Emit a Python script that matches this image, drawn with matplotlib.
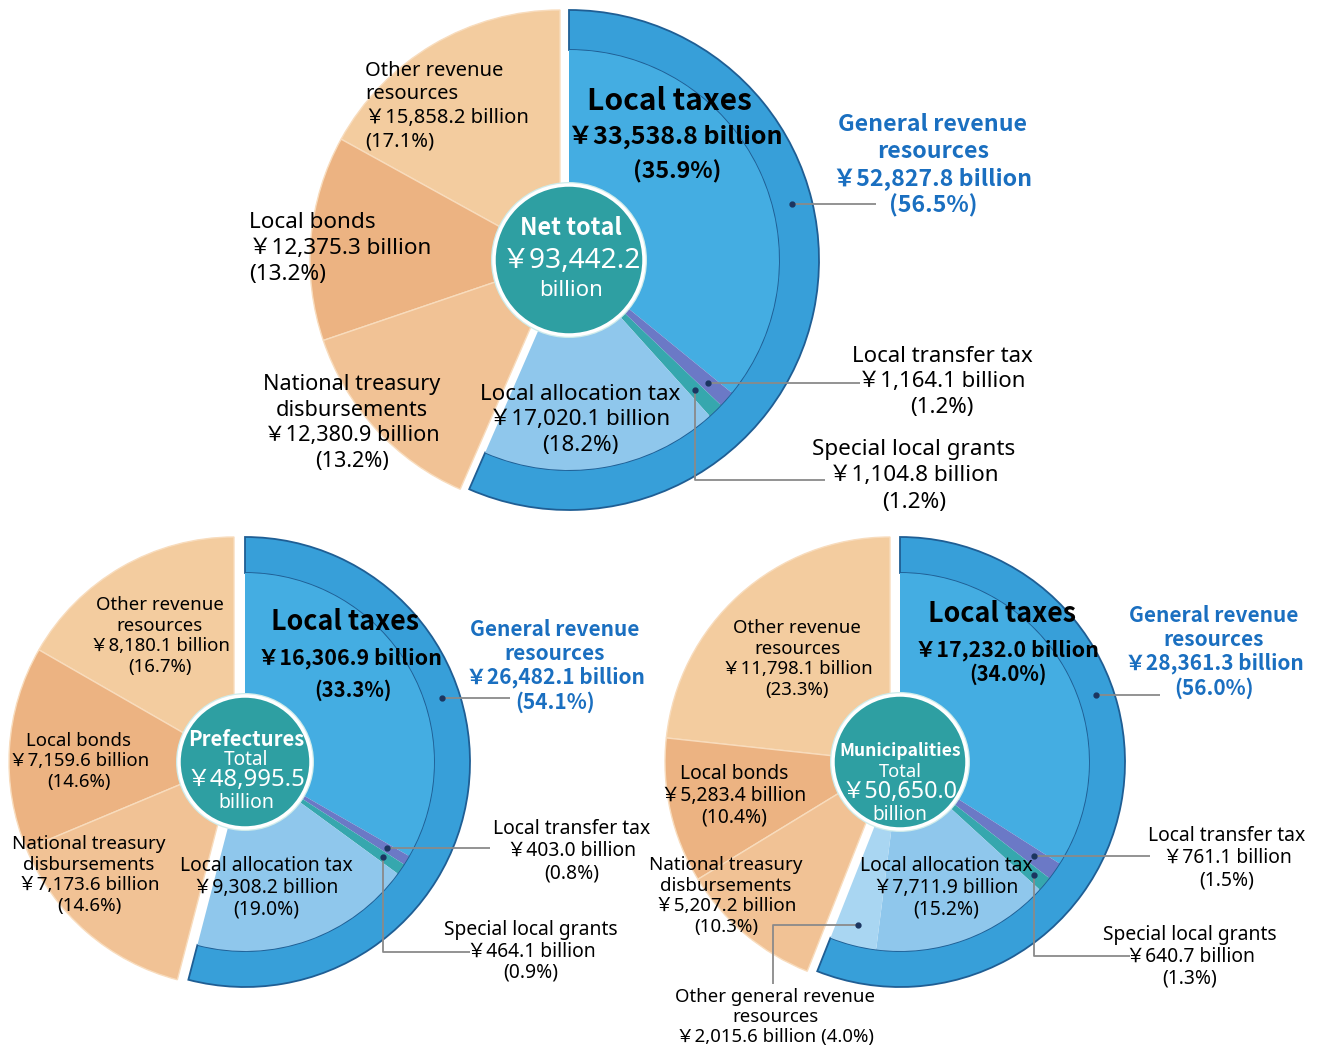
import matplotlib
matplotlib.use("Agg")
import matplotlib.pyplot as plt
from matplotlib.patches import Circle
import numpy as np

W, H = 1319, 1049
FONT = ["Noto Sans", "Noto Sans CJK JP", "DejaVu Sans"]
BFONT = ["Noto Sans CJK JP", "DejaVu Sans"]

# ---------------- data ----------------
beige_names = ["Other revenue\nresources", "Local bonds", "National treasury\ndisbursements"]
general_names = ["Local taxes", "Local transfer tax", "Special local grants",
                 "Local allocation tax", "Other general revenue\nresources"]

net_beige = [15858.2, 12375.3, 12380.9]
net_beige_pct = [17.1, 13.2, 13.2]
net_parts = [33538.8, 1164.1, 1104.8, 17020.1]
net_parts_pct = [35.9, 1.2, 1.2, 18.2]
net_general = 52827.8
net_general_pct = 56.5
net_total = 93442.2

pref_beige = [8180.1, 7159.6, 7173.6]
pref_beige_pct = [16.7, 14.6, 14.6]
pref_parts = [16306.9, 403.0, 464.1, 9308.2]
pref_parts_pct = [33.3, 0.8, 0.9, 19.0]
pref_general = 26482.1
pref_general_pct = 54.1
pref_total = 48995.5

muni_beige = [11798.1, 5283.4, 5207.2]
muni_beige_pct = [23.3, 10.4, 10.3]
muni_parts = [17232.0, 761.1, 640.7, 7711.9, 2015.6]
muni_parts_pct = [34.0, 1.5, 1.3, 15.2, 4.0]
muni_general = 28361.3
muni_general_pct = 56.0
muni_total = 50650.0

# ---------------- styles ----------------
BEIGE = ["#f3cc9f", "#ecb382", "#f1c295"]
PARTS = ["#44ade2", "#6b79c6", "#36a7ae", "#8fc7ec", "#a9d6f2"]
RING = "#379fd9"
RING_EDGE = "#1f5e94"
HUB = "#2e9fa2"
GEN_BLUE = "#1a6fc0"
LINE = "#8a8a8a"
DOT = "#1b3560"


def yen(v):
    return f"\uffe5{v:,.1f} billion"


def pct(p):
    return f"({p:.1f}%)"


fig = plt.figure(figsize=(W / 100, H / 100), dpi=100)
ax = fig.add_axes([0, 0, 1, 1])


def Y(y):
    return H - y


def polar(cx, cy, ang, r):
    a = np.radians(ang)
    return cx + r * np.cos(a), cy - r * np.sin(a)


def mid_angle(values, idx, total):
    cum = sum(values[:idx]) + values[idx] / 2
    return 90 - 360 * cum / total


def draw_pie(cx, cy, R, ring_w, hub_r, gap, beige, parts, general):
    tb, tg = sum(beige), sum(parts)
    wb, _ = ax.pie(beige + [tg], startangle=90, counterclock=True,
                   center=(cx - gap, Y(cy)), radius=R,
                   colors=BEIGE + ["none"], frame=True,
                   wedgeprops=dict(edgecolor="#f8dcbd", linewidth=1.0))
    wb[-1].set_visible(False)
    wr, _ = ax.pie([tg, tb], startangle=90, counterclock=False,
                   center=(cx, Y(cy)), radius=R, colors=[RING, "none"], frame=True,
                   wedgeprops=dict(width=ring_w, edgecolor=RING_EDGE, linewidth=1.3))
    wr[-1].set_visible(False)
    wi, _ = ax.pie(parts + [tb], startangle=90, counterclock=False,
                   center=(cx, Y(cy)), radius=R - ring_w,
                   colors=PARTS[:len(parts)] + ["none"], frame=True,
                   wedgeprops=dict(edgecolor="none", linewidth=0))
    wi[-1].set_visible(False)
    ax.add_patch(Circle((cx, Y(cy)), hub_r + 3, fc="#cfeceb", ec="none", zorder=5))
    ax.add_patch(Circle((cx, Y(cy)), hub_r, fc=HUB, ec="white", lw=2.5, zorder=6))


def txt(x, y, s, size, weight="normal", color="black", ha="center", ls=1.2, z=10):
    fam = BFONT if weight == "bold" else FONT
    ax.text(x, Y(y), s, fontsize=size, fontweight=weight, color=color, ha=ha,
            va="center", family=fam, linespacing=ls, zorder=z, multialignment=ha)


def leader(points, dot=True):
    xs = [p[0] for p in points]
    ys = [Y(p[1]) for p in points]
    ax.plot(xs, ys, color=LINE, lw=1.3, zorder=8, solid_capstyle="butt")
    if dot:
        ax.plot(xs[0], ys[0], "o", ms=3.5, color=DOT, zorder=9)


# ================= Net total (top) =================
cx, cy, R = 569, 260, 250
draw_pie(cx, cy, R, 40, 75, 9, net_beige, net_parts, net_general)
tot = sum(net_beige) + sum(net_parts)
txt(365, 106, f"{beige_names[0]}\n{yen(net_beige[0])}\n{pct(net_beige_pct[0])}", 14.5, ha="left", ls=1.24)
txt(249, 248.5, f"{beige_names[1]}\n{yen(net_beige[1])}\n{pct(net_beige_pct[1])}", 16.2, ha="left", ls=1.29)
txt(352, 423, f"{beige_names[2]}\n{yen(net_beige[2])}\n{pct(net_beige_pct[2])}", 15.6, ls=1.31)
txt(669, 101, general_names[0], 21.5, "bold")
txt(675, 137, yen(net_parts[0]), 18, "bold")
txt(677, 172, pct(net_parts_pct[0]), 16.7, "bold")
txt(571, 228, "Net total", 16.8, "bold", "white")
txt(571, 261, f"\uffe5{net_total:,.1f}", 20.2, "normal", "white")
txt(571, 290, "billion", 16, "normal", "white")
txt(933, 165, f"General revenue\nresources\n{yen(net_general)}\n{pct(net_general_pct)}", 16.7, "bold", GEN_BLUE, ls=1.22)
txt(580, 420, f"{general_names[3]}\n{yen(net_parts[3])}\n{pct(net_parts_pct[3])}", 16.1, ls=1.31)
txt(942, 382, f"{general_names[1]}\n{yen(net_parts[1])}\n{pct(net_parts_pct[1])}", 16.0, ls=1.29)
txt(914, 476, f"{general_names[2]}\n{yen(net_parts[2])}\n{pct(net_parts_pct[2])}", 16.2, ls=1.33)
p = polar(cx, cy, 14, 230)
leader([p, (876, p[1])])
p = polar(cx, cy, mid_angle(net_parts, 1, tot), 186)
leader([p, (860, p[1])])
p = polar(cx, cy, mid_angle(net_parts, 2, tot), 181)
leader([p, (p[0], 480), (825, 480)])

# ================= Prefectures (bottom left) =================
cx, cy, R = 245, 762, 225
draw_pie(cx, cy, R, 36, 66, 11, pref_beige, pref_parts, pref_general)
tot = sum(pref_beige) + sum(pref_parts)
txt(160, 636, f"{beige_names[0]}\n{yen(pref_beige[0])}\n{pct(pref_beige_pct[0])}", 13.4, ls=1.21)
txt(79, 761.5, f"{beige_names[1]}\n{yen(pref_beige[1])}\n{pct(pref_beige_pct[1])}", 13.4, ls=1.18)
txt(89, 875, f"{beige_names[2]}\n{yen(pref_beige[2])}\n{pct(pref_beige_pct[2])}", 13.5, ls=1.21)
txt(345, 622, general_names[0], 19.3, "bold")
txt(350, 658, yen(pref_parts[0]), 15.4, "bold")
txt(353, 690, pct(pref_parts_pct[0]), 14.6, "bold")
txt(246, 739, "Prefectures", 14.6, "bold", "white")
txt(246, 760, "Total", 13.7, "normal", "white")
txt(246, 780, f"\uffe5{pref_total:,.1f}", 17.2, "normal", "white")
txt(246, 803, "billion", 14, "normal", "white")
txt(555, 666, f"General revenue\nresources\n{yen(pref_general)}\n{pct(pref_general_pct)}", 15, "bold", GEN_BLUE, ls=1.16)
txt(266, 888, f"{general_names[3]}\n{yen(pref_parts[3])}\n{pct(pref_parts_pct[3])}", 13.9, ls=1.12)
txt(572, 851, f"{general_names[1]}\n{yen(pref_parts[1])}\n{pct(pref_parts_pct[1])}", 13.9, ls=1.14)
txt(531, 951.5, f"{general_names[2]}\n{yen(pref_parts[2])}\n{pct(pref_parts_pct[2])}", 13.9, ls=1.07)
p = polar(cx, cy, 18, 207)
leader([p, (510, p[1])])
p = polar(cx, cy, mid_angle(pref_parts, 1, tot), 166)
leader([p, (490, p[1])])
p = polar(cx, cy, mid_angle(pref_parts, 2, tot), 168)
leader([p, (p[0], 952), (470, 952)])

# ================= Municipalities (bottom right) =================
cx, cy, R = 900, 762, 225
draw_pie(cx, cy, R, 36, 67, 10, muni_beige, muni_parts, muni_general)
tot = sum(muni_beige) + sum(muni_parts)
txt(797, 659, f"{beige_names[0]}\n{yen(muni_beige[0])}\n{pct(muni_beige_pct[0])}", 13.4, ls=1.2)
txt(734, 796, f"{beige_names[1]}\n{yen(muni_beige[1])}\n{pct(muni_beige_pct[1])}", 13.9, ls=1.12)
txt(726, 896, f"{beige_names[2]}\n{yen(muni_beige[2])}\n{pct(muni_beige_pct[2])}", 13.5, ls=1.21)
txt(1002, 614, general_names[0], 19.3, "bold")
txt(1007, 650, yen(muni_parts[0]), 15.4, "bold")
txt(1008, 674, pct(muni_parts_pct[0]), 14.6, "bold")
txt(900, 751, "Municipalities", 12.6, "bold", "white")
txt(900, 772, "Total", 13.2, "normal", "white")
txt(900, 792, f"\uffe5{muni_total:,.1f}", 16.8, "normal", "white")
txt(900, 815, "billion", 13.7, "normal", "white")
txt(1214, 652, f"General revenue\nresources\n{yen(muni_general)}\n{pct(muni_general_pct)}", 15, "bold", GEN_BLUE, ls=1.16)
txt(946, 888, f"{general_names[3]}\n{yen(muni_parts[3])}\n{pct(muni_parts_pct[3])}", 13.9, ls=1.12)
txt(1227, 858, f"{general_names[1]}\n{yen(muni_parts[1])}\n{pct(muni_parts_pct[1])}", 13.9, ls=1.14)
txt(1190, 957, f"{general_names[2]}\n{yen(muni_parts[2])}\n{pct(muni_parts_pct[2])}", 13.9, ls=1.12)
txt(775, 1017, f"{general_names[4]}\n{yen(muni_parts[4])} {pct(muni_parts_pct[4])}", 13.4, ls=1.15)
p = polar(cx, cy, 19, 207)
leader([p, (1160, p[1])])
p = polar(cx, cy, mid_angle(muni_parts, 1, tot), 164)
leader([p, (1150, p[1])])
p = polar(cx, cy, mid_angle(muni_parts, 2, tot), 175)
leader([p, (p[0], 956), (1130, 956)])
p = polar(cx, cy, mid_angle(muni_parts, 4, tot), 168)
leader([p, (773, p[1]), (773, 984)])

ax.set_xlim(0, W)
ax.set_ylim(0, H)
ax.set_aspect("auto")
ax.axis("off")
fig.savefig("out.png", dpi=100, facecolor="white")
